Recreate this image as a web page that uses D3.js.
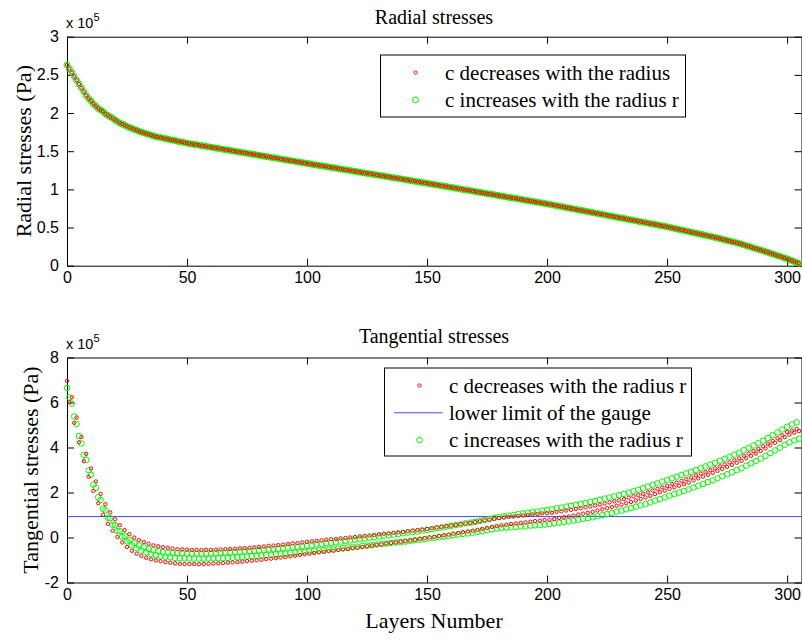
<!DOCTYPE html>
<meta charset="utf-8">
<script src="https://d3js.org/d3.v7.min.js"></script>
<style>
  body { margin: 0; background: #fff; }
  .tick text { font-family: "Liberation Sans", Arial, sans-serif; font-size: 16px; fill: #000; }
  .serif { font-family: "Liberation Serif", "Times New Roman", serif; fill: #000; }
</style>
<div id="my_dataviz"></div>
<script>

// values in units of 1e5 Pa, one value per layer (layer = index)
var radialDec = [2.63,2.58,2.53,2.48,2.43,2.38,2.33,2.28,2.23,2.19,
2.16,2.12,2.09,2.06,2.04,2.02,1.99,1.97,1.95,1.93,
1.91,1.89,1.87,1.855,1.84,1.825,1.81,1.80,1.785,1.775,
1.76,1.75,1.74,1.73,1.72,1.71,1.70,1.69,1.685,1.68,
1.67,1.665,1.66,1.65,1.645,1.64,1.63,1.625,1.62,1.61,
1.605,
1.600,1.594,1.589,1.584,1.579,1.573,1.568,1.563,1.557,1.552,
1.547,1.541,1.536,1.531,1.526,1.520,1.515,1.510,1.504,1.499,
1.494,1.488,1.483,1.478,1.473,1.467,1.462,1.457,1.451,1.446,
1.441,1.435,1.430,1.425,1.420,1.414,1.409,1.404,1.398,1.393,
1.388,1.382,1.377,1.372,1.367,1.361,1.356,1.351,1.345,1.340,
1.335,1.330,1.324,1.319,1.314,1.309,1.304,1.298,1.293,1.288,
1.283,1.278,1.272,1.267,1.262,1.257,1.252,1.246,1.241,1.236,
1.231,1.226,1.220,1.215,1.210,1.205,1.200,1.194,1.189,1.184,
1.179,1.174,1.168,1.163,1.158,1.153,1.148,1.142,1.137,1.132,
1.127,1.122,1.116,1.111,1.106,1.101,1.096,1.090,1.085,1.080,
1.075,1.069,1.064,1.058,1.053,1.048,1.042,1.037,1.031,1.026,
1.021,1.015,1.010,1.004,0.999,0.994,0.988,0.983,0.977,0.972,
0.967,0.961,0.956,0.950,0.945,0.940,0.934,0.929,0.923,0.918,
0.913,0.907,0.902,0.896,0.891,0.886,0.880,0.875,0.869,0.864,
0.859,0.853,0.848,0.842,0.837,0.832,0.826,0.821,0.815,0.810,
0.804,0.798,0.792,0.786,0.780,0.774,0.768,0.762,0.756,0.750,
0.744,0.738,0.732,0.726,0.720,0.714,0.708,0.702,0.696,0.690,
0.684,0.678,0.672,0.666,0.660,0.654,0.648,0.642,0.636,0.630,
0.624,0.618,0.612,0.606,0.600,0.594,0.588,0.582,0.576,0.570,
0.564,0.558,0.552,0.546,0.540,0.534,0.528,0.522,0.516,0.510,
0.503,0.496,0.489,0.482,0.475,0.468,0.461,0.454,0.447,0.440,
0.433,0.426,0.419,0.412,0.405,0.398,0.391,0.384,0.377,0.370,
0.362,0.354,0.347,0.339,0.331,0.323,0.315,0.308,0.300,0.292,
0.282,0.273,0.263,0.253,0.244,0.234,0.224,0.214,0.205,0.195,
0.185,0.174,0.164,0.153,0.143,0.132,0.122,0.111,0.101,0.090,
0.078,0.066,0.054,0.042,0.030];

// the two radial curves lie on top of each other in the picture
var radialInc = [2.63,2.58,2.53,2.48,2.43,2.38,2.33,2.28,2.23,2.19,
2.16,2.12,2.09,2.06,2.04,2.02,1.99,1.97,1.95,1.93,
1.91,1.89,1.87,1.855,1.84,1.825,1.81,1.80,1.785,1.775,
1.76,1.75,1.74,1.73,1.72,1.71,1.70,1.69,1.685,1.68,
1.67,1.665,1.66,1.65,1.645,1.64,1.63,1.625,1.62,1.61,
1.605,
1.600,1.594,1.589,1.584,1.579,1.573,1.568,1.563,1.557,1.552,
1.547,1.541,1.536,1.531,1.526,1.520,1.515,1.510,1.504,1.499,
1.494,1.488,1.483,1.478,1.473,1.467,1.462,1.457,1.451,1.446,
1.441,1.435,1.430,1.425,1.420,1.414,1.409,1.404,1.398,1.393,
1.388,1.382,1.377,1.372,1.367,1.361,1.356,1.351,1.345,1.340,
1.335,1.330,1.324,1.319,1.314,1.309,1.304,1.298,1.293,1.288,
1.283,1.278,1.272,1.267,1.262,1.257,1.252,1.246,1.241,1.236,
1.231,1.226,1.220,1.215,1.210,1.205,1.200,1.194,1.189,1.184,
1.179,1.174,1.168,1.163,1.158,1.153,1.148,1.142,1.137,1.132,
1.127,1.122,1.116,1.111,1.106,1.101,1.096,1.090,1.085,1.080,
1.075,1.069,1.064,1.058,1.053,1.048,1.042,1.037,1.031,1.026,
1.021,1.015,1.010,1.004,0.999,0.994,0.988,0.983,0.977,0.972,
0.967,0.961,0.956,0.950,0.945,0.940,0.934,0.929,0.923,0.918,
0.913,0.907,0.902,0.896,0.891,0.886,0.880,0.875,0.869,0.864,
0.859,0.853,0.848,0.842,0.837,0.832,0.826,0.821,0.815,0.810,
0.804,0.798,0.792,0.786,0.780,0.774,0.768,0.762,0.756,0.750,
0.744,0.738,0.732,0.726,0.720,0.714,0.708,0.702,0.696,0.690,
0.684,0.678,0.672,0.666,0.660,0.654,0.648,0.642,0.636,0.630,
0.624,0.618,0.612,0.606,0.600,0.594,0.588,0.582,0.576,0.570,
0.564,0.558,0.552,0.546,0.540,0.534,0.528,0.522,0.516,0.510,
0.503,0.496,0.489,0.482,0.475,0.468,0.461,0.454,0.447,0.440,
0.433,0.426,0.419,0.412,0.405,0.398,0.391,0.384,0.377,0.370,
0.362,0.354,0.347,0.339,0.331,0.323,0.315,0.308,0.300,0.292,
0.282,0.273,0.263,0.253,0.244,0.234,0.224,0.214,0.205,0.195,
0.185,0.174,0.164,0.153,0.143,0.132,0.122,0.111,0.101,0.090,
0.078,0.066,0.054,0.042,0.030];

// tangential stresses zig-zag between even and odd layers
// even layers 0,2,...,304 ; odd layers 1,3,...,305
var tanDecEven = [6.96,6.23,5.33,4.46,3.72,3.07,2.49,1.94,1.48,1.12,
0.81,0.55,0.33,0.15,0.00,-0.12,-0.20,-0.28,-0.35,-0.39,
-0.43,-0.46,-0.49,-0.52,-0.53,-0.54,-0.55,-0.55,-0.56,-0.55,
-0.55,-0.54,-0.53,-0.52,-0.51,-0.50,-0.48,-0.47,-0.46,-0.44,
-0.42,-0.40,-0.37,-0.36,-0.34,-0.32,-0.29,-0.26,-0.25,-0.22,
-0.19,-0.17,-0.15,-0.13,-0.10,-0.08,-0.07,-0.04,-0.02,0.00,
0.02,0.05,0.07,0.09,0.11,0.14,0.17,0.18,0.21,0.23,
0.25,0.28,0.31,0.33,0.35,0.38,0.41,0.44,0.47,0.50,
0.53,0.56,0.59,0.62,0.65,0.68,0.72,0.76,0.79,0.83,
0.87,0.89,0.92,0.93,0.96,0.98,1.00,1.03,1.04,1.07,
1.08,1.10,1.14,1.16,1.20,1.23,1.27,1.30,1.34,1.38,
1.42,1.46,1.51,1.56,1.61,1.65,1.71,1.77,1.83,1.88,
1.94,2.01,2.09,2.16,2.23,2.30,2.37,2.44,2.52,2.59,
2.67,2.76,2.84,2.91,2.99,3.07,3.16,3.25,3.34,3.43,
3.52,3.63,3.73,3.84,3.94,4.05,4.17,4.29,4.41,4.54,
4.69,4.75,4.83];

var tanDecOdd = [6.02,5.10,4.23,3.39,2.70,2.07,1.52,1.01,0.61,0.30,
0.02,-0.22,-0.42,-0.59,-0.72,-0.82,-0.90,-0.97,-1.02,-1.05,
-1.09,-1.12,-1.15,-1.17,-1.18,-1.18,-1.18,-1.19,-1.18,-1.17,
-1.16,-1.15,-1.14,-1.12,-1.11,-1.09,-1.07,-1.05,-1.03,-1.01,
-0.99,-0.96,-0.94,-0.92,-0.89,-0.87,-0.84,-0.81,-0.78,-0.75,
-0.72,-0.69,-0.66,-0.64,-0.61,-0.59,-0.55,-0.53,-0.51,-0.47,
-0.45,-0.42,-0.39,-0.36,-0.33,-0.31,-0.27,-0.24,-0.22,-0.19,
-0.16,-0.13,-0.10,-0.06,-0.03,0.00,0.03,0.07,0.10,0.13,
0.17,0.20,0.24,0.27,0.30,0.34,0.38,0.43,0.47,0.51,
0.54,0.57,0.60,0.62,0.65,0.67,0.70,0.73,0.75,0.78,
0.79,0.82,0.87,0.90,0.93,0.97,1.02,1.06,1.10,1.14,
1.20,1.25,1.30,1.35,1.41,1.46,1.52,1.58,1.64,1.71,
1.78,1.85,1.93,2.01,2.08,2.16,2.23,2.30,2.37,2.44,
2.54,2.63,2.71,2.79,2.87,2.96,3.05,3.14,3.23,3.32,
3.41,3.52,3.63,3.73,3.84,3.96,4.09,4.21,4.33,4.46,
4.57,4.66,4.73];

var tanIncEven = [6.65,5.95,5.05,4.18,3.44,2.79,2.21,1.67,1.21,0.86,
0.55,0.29,0.08,-0.10,-0.24,-0.36,-0.44,-0.51,-0.57,-0.61,
-0.65,-0.67,-0.69,-0.69,-0.70,-0.71,-0.72,-0.72,-0.72,-0.72,
-0.71,-0.70,-0.68,-0.67,-0.66,-0.65,-0.63,-0.62,-0.60,-0.59,
-0.57,-0.55,-0.53,-0.52,-0.50,-0.47,-0.45,-0.43,-0.41,-0.39,
-0.37,-0.35,-0.31,-0.29,-0.26,-0.24,-0.21,-0.18,-0.16,-0.13,
-0.10,-0.07,-0.05,-0.01,0.01,0.04,0.08,0.10,0.13,0.15,
0.19,0.22,0.25,0.27,0.31,0.34,0.37,0.41,0.45,0.48,
0.52,0.55,0.58,0.63,0.66,0.69,0.74,0.78,0.82,0.87,
0.91,0.94,0.97,1.00,1.04,1.07,1.09,1.13,1.16,1.19,
1.22,1.25,1.30,1.33,1.37,1.41,1.45,1.49,1.54,1.58,
1.62,1.68,1.73,1.78,1.83,1.88,1.94,2.00,2.06,2.12,
2.19,2.26,2.34,2.41,2.49,2.56,2.63,2.70,2.78,2.85,
2.92,3.00,3.08,3.16,3.24,3.32,3.41,3.50,3.59,3.68,
3.77,3.88,3.98,4.09,4.19,4.30,4.42,4.55,4.67,4.80,
4.92,5.02,5.12];

var tanIncOdd = [6.23,5.38,4.51,3.67,2.98,2.35,1.79,1.28,0.88,0.56,
0.28,0.03,-0.17,-0.34,-0.48,-0.58,-0.66,-0.74,-0.79,-0.83,
-0.86,-0.88,-0.91,-0.92,-0.93,-0.93,-0.94,-0.94,-0.94,-0.93,
-0.93,-0.92,-0.92,-0.91,-0.90,-0.88,-0.87,-0.85,-0.83,-0.82,
-0.80,-0.78,-0.77,-0.75,-0.74,-0.72,-0.70,-0.68,-0.66,-0.64,
-0.62,-0.59,-0.58,-0.56,-0.53,-0.52,-0.49,-0.47,-0.45,-0.43,
-0.41,-0.38,-0.36,-0.34,-0.31,-0.29,-0.27,-0.24,-0.22,-0.20,
-0.18,-0.15,-0.12,-0.10,-0.07,-0.04,-0.02,0.01,0.04,0.07,
0.10,0.13,0.16,0.18,0.21,0.25,0.28,0.32,0.36,0.39,
0.42,0.44,0.45,0.47,0.49,0.50,0.53,0.54,0.55,0.57,
0.60,0.63,0.66,0.69,0.72,0.75,0.79,0.83,0.86,0.90,
0.95,0.99,1.04,1.09,1.14,1.19,1.25,1.31,1.37,1.43,
1.49,1.56,1.64,1.71,1.78,1.86,1.93,2.00,2.07,2.14,
2.22,2.30,2.38,2.46,2.54,2.63,2.72,2.81,2.90,2.99,
3.08,3.19,3.30,3.40,3.51,3.62,3.75,3.87,3.99,4.12,
4.23,4.31,4.39];

var gaugeLimit = 0.93;   // lower limit of the gauge, x 1e5 Pa

var layerTicks = [0, 50, 100, 150, 200, 250, 300];
var radialTicks = [0, 0.5, 1, 1.5, 2, 2.5, 3];
var tangentialTicks = [-2, 0, 2, 4, 6, 8];

var legendTop = ["c decreases with the radius", "c increases with the radius r"];
var legendBottom = ["c decreases with the radius r", "lower limit of the gauge", "c increases with the radius r"];

var RED = "#ff0000", GREEN = "#00ff00", BLUE = "#4646ff";

// build point lists
function byLayer(arr) {
  return arr.map(function(v, i) { return {layer: i, value: v}; });
}
function merge(even, odd) {
  var pts = [];
  even.forEach(function(v, i) { pts.push({layer: 2 * i, value: v}); });
  odd.forEach(function(v, i) { pts.push({layer: 2 * i + 1, value: v}); });
  return pts;
}

var svg = d3.select("#my_dataviz")
  .append("svg")
    .attr("width", 802)
    .attr("height", 640);

var x = d3.scaleLinear().domain([0, 306]).range([67, 801.5]);

var panels = [
  { top: 36.7, bottom: 265.7, domain: [0, 3], ticks: radialTicks,
    title: "Radial stresses", titleY: 24, ylabel: "Radial stresses (Pa)", ylabelX: 31,
    red: byLayer(radialDec), green: byLayer(radialInc), redR: 1.6, greenR: 3,
    legend: legendTop, legendBox: [380.5, 55, 305, 62] },
  { top: 357.5, bottom: 582.5, domain: [-2, 8], ticks: tangentialTicks,
    title: "Tangential stresses", titleY: 343, ylabel: "Tangential stresses (Pa)", ylabelX: 38,
    red: merge(tanDecEven, tanDecOdd), green: merge(tanIncEven, tanIncOdd), redR: 1.7, greenR: 2.8,
    legend: legendBottom, legendBox: [384.5, 368, 307, 88], gauge: true }
];

panels.forEach(function(p) {
  var y = d3.scaleLinear().domain(p.domain).range([p.bottom, p.top]);
  var g = svg.append("g");

  // axes, MATLAB style box with inward ticks
  g.append("g")
    .attr("transform", "translate(0," + p.bottom + ")")
    .call(d3.axisBottom(x).tickValues(layerTicks).tickSize(-7).tickSizeOuter(0).tickPadding(6)
      .tickFormat(function(d) { return String(d); }));
  g.append("g")
    .attr("transform", "translate(0," + p.top + ")")
    .call(d3.axisTop(x).tickValues(layerTicks).tickSize(-7).tickSizeOuter(0).tickFormat(""));
  g.append("g")
    .attr("transform", "translate(67,0)")
    .call(d3.axisLeft(y).tickValues(p.ticks).tickSize(-7).tickSizeOuter(0).tickPadding(8)
      .tickFormat(function(d) { return String(d); }));
  g.append("g")
    .attr("transform", "translate(801.5,0)")
    .call(d3.axisRight(y).tickValues(p.ticks).tickSize(-7).tickSizeOuter(0).tickFormat(""));
  g.selectAll(".domain, .tick line").attr("stroke", "#000").attr("stroke-width", 1);

  // exponent label
  var ex = g.append("text")
    .attr("x", 66).attr("y", p.top - 9)
    .style("font-family", "'Liberation Sans', Arial, sans-serif")
    .style("font-size", "14.5px")
    .text("x 10");
  ex.append("tspan").attr("dy", -7).style("font-size", "11px").text("5");

  // title and y label
  g.append("text").attr("class", "serif")
    .attr("x", 434).attr("y", p.titleY)
    .attr("text-anchor", "middle").style("font-size", "20px")
    .text(p.title);
  g.append("text").attr("class", "serif")
    .attr("transform", "translate(" + p.ylabelX + "," + ((p.top + p.bottom) / 2) + ") rotate(-90)")
    .attr("text-anchor", "middle").style("font-size", "22px")
    .text(p.ylabel);

  // gauge line
  if (p.gauge) {
    g.append("line")
      .attr("x1", x(0)).attr("x2", x(306))
      .attr("y1", y(gaugeLimit)).attr("y2", y(gaugeLimit))
      .attr("stroke", BLUE).attr("stroke-width", 1);
  }

  // markers
  g.append("g").selectAll("circle")
    .data(p.green).enter().append("circle")
      .attr("cx", function(d) { return x(d.layer); })
      .attr("cy", function(d) { return y(d.value); })
      .attr("r", p.greenR)
      .attr("fill", "none").attr("stroke", GREEN).attr("stroke-width", 1);
  g.append("g").selectAll("circle")
    .data(p.red).enter().append("circle")
      .attr("cx", function(d) { return x(d.layer); })
      .attr("cy", function(d) { return y(d.value); })
      .attr("r", p.redR)
      .attr("fill", "none").attr("stroke", RED).attr("stroke-width", 1);

  // legend
  var b = p.legendBox;
  var lg = g.append("g");
  lg.append("rect")
    .attr("x", b[0]).attr("y", b[1]).attr("width", b[2]).attr("height", b[3])
    .attr("fill", "#fff").attr("stroke", "#000").attr("stroke-width", 1);
  var rowH = 27.3;
  var items = p.legend.map(function(t, i) {
    var kind = (i === 0) ? "red" : (p.gauge && i === 1 ? "line" : "green");
    return {text: t, kind: kind, cy: b[1] + 17.5 + i * rowH};
  });
  lg.selectAll(".lt").data(items).enter().append("text")
    .attr("class", "serif lt")
    .attr("x", b[0] + 64.5).attr("y", function(d) { return d.cy + 7; })
    .style("font-size", "21px")
    .text(function(d) { return d.text; });
  items.forEach(function(d) {
    if (d.kind === "line") {
      lg.append("line").attr("x1", b[0] + 9.5).attr("x2", b[0] + 58)
        .attr("y1", d.cy).attr("y2", d.cy)
        .attr("stroke", BLUE).attr("stroke-width", 1);
    } else {
      lg.append("circle").attr("cx", b[0] + 35).attr("cy", d.cy)
        .attr("r", d.kind === "red" ? p.redR : p.greenR)
        .attr("fill", "none").attr("stroke", d.kind === "red" ? RED : GREEN).attr("stroke-width", 1);
    }
  });
});

// x label
svg.append("text").attr("class", "serif")
  .attr("x", 434).attr("y", 628)
  .attr("text-anchor", "middle").style("font-size", "22px")
  .text("Layers Number");

</script>
